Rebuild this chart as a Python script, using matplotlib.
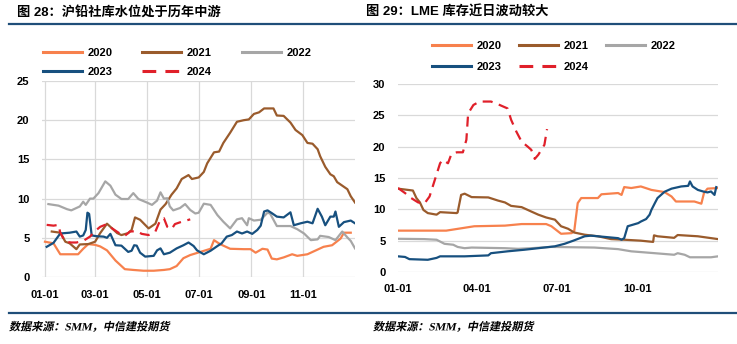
import pandas as pd
import matplotlib
matplotlib.use('Agg')
import matplotlib.pyplot as plt
from matplotlib import patheffects
from matplotlib.lines import Line2D
from matplotlib.transforms import Affine2D

# 沪铅社会库存（万吨），横轴为年内天数
shfe_2020_day = [0, 10, 18, 39, 45, 51, 59, 65, 73, 83, 94, 104, 116, 128, 140, 147, 155, 163, 171, 183,
                 195, 199, 206, 218, 234, 242, 248, 256, 262, 267, 273, 281, 291, 297, 309, 319, 328, 338,
                 348, 352, 360]
shfe_2020 = [4.5, 4.3, 2.9, 2.9, 3.6, 4.2, 4.1, 3.9, 3.4, 2.1, 1.0, 0.9, 0.8, 0.8, 0.9, 1.0, 1.4, 2.4,
             2.8, 3.2, 3.6, 4.7, 4.2, 3.6, 3.55, 3.55, 3.1, 3.6, 3.5, 2.35, 2.25, 2.5, 2.9, 2.7, 2.9, 3.4,
             3.85, 4.05, 4.9, 5.65, 5.65]

shfe_2021_day = [8, 18, 24, 29, 37, 41, 51, 59, 65, 73, 79, 85, 90, 98, 102, 106, 112, 122, 130, 136,
                 142, 149, 155, 161, 169, 173, 181, 187, 191, 199, 205, 210, 218, 226, 234, 240, 246,
                 252, 258, 269, 273, 281, 289, 295, 303, 309, 315, 321, 324, 330, 336, 340, 344, 350,
                 356, 360, 365]
shfe_2021 = [5.8, 5.65, 4.5, 4.3, 3.55, 4.15, 4.2, 4.5, 5.6, 6.8, 6.2, 5.6, 5.35, 5.6, 6.0, 7.6, 7.3,
             6.2, 6.8, 8.6, 9.3, 10.5, 11.3, 12.5, 13.0, 12.5, 12.7, 13.4, 14.5, 15.9, 16.0, 17.1, 18.4,
             19.8, 20.0, 20.1, 20.8, 21.0, 21.5, 21.5, 20.6, 20.55, 19.7, 18.75, 18.1, 17.1, 17.0, 16.3,
             15.4, 14.05, 13.1, 12.85, 12.1, 11.65, 11.2, 10.3, 9.5]

shfe_2022_day = [4, 16, 26, 31, 41, 45, 48, 53, 57, 63, 71, 77, 83, 90, 98, 104, 110, 120, 126, 132,
                 136, 140, 144, 147, 151, 159, 165, 171, 177, 181, 187, 195, 203, 210, 218, 226, 232,
                 238, 240, 246, 254, 262, 265, 273, 289, 297, 305, 313, 321, 324, 334, 342, 350, 356,
                 360, 365]
shfe_2022 = [9.3, 9.1, 8.65, 8.5, 9.0, 9.6, 9.2, 10.0, 10.0, 10.7, 12.2, 11.65, 10.5, 9.95, 9.95, 10.7,
             9.95, 9.5, 9.2, 9.75, 10.8, 10.0, 10.05, 9.0, 8.5, 8.8, 9.3, 8.55, 8.1, 8.2, 9.35, 9.2, 7.9,
             7.05, 6.2, 7.35, 7.5, 6.6, 7.5, 7.2, 7.3, 8.2, 8.1, 6.5, 6.5, 6.1, 5.55, 4.7, 4.8, 5.25, 5.1,
             4.7, 5.8, 5.05, 4.6, 3.65]

shfe_2023_day = [2, 10, 18, 29, 37, 41, 45, 48, 50, 52, 55, 61, 69, 73, 77, 83, 90, 98, 102, 105, 108,
                 112, 118, 128, 132, 136, 140, 147, 155, 163, 169, 175, 179, 187, 195, 203, 208, 214,
                 220, 226, 232, 238, 244, 250, 254, 258, 262, 267, 273, 281, 289, 293, 301, 309, 315,
                 321, 326, 330, 336, 340, 342, 346, 352, 360, 365]
shfe_2023 = [3.85, 4.35, 5.55, 5.65, 5.8, 5.15, 5.3, 6.0, 8.2, 8.05, 5.3, 5.2, 5.15, 5.0, 5.5, 4.05, 4.0,
             3.2, 3.35, 4.05, 4.0, 3.1, 2.6, 2.7, 3.4, 3.65, 2.9, 3.1, 3.65, 4.05, 4.4, 3.95, 3.4, 2.9,
             3.35, 3.95, 4.3, 5.15, 5.35, 5.8, 5.55, 5.8, 5.5, 6.0, 6.55, 8.35, 8.5, 8.15, 7.7, 7.6, 8.25,
             6.6, 6.85, 7.05, 6.85, 8.7, 7.7, 6.6, 7.7, 7.7, 8.35, 6.4, 7.0, 7.2, 6.85]

shfe_2024_day = [2, 10, 16, 18, 24, 31, 37, 45, 53, 59, 65, 73, 79, 88, 94, 100, 108, 114, 122, 130,
                 136, 140, 144, 149, 153, 161, 171]
shfe_2024 = [6.65, 6.55, 6.65, 5.65, 4.5, 4.4, 4.4, 4.6, 5.15, 5.85, 6.4, 6.75, 6.2, 5.55, 5.25, 5.8,
             5.85, 5.5, 5.35, 5.8, 7.35, 7.5, 6.4, 6.1, 6.75, 7.05, 7.35]

# LME 铅库存（万吨）
lme_2020_day = [0, 55, 87, 122, 141, 169, 175, 186, 198, 201, 205, 209, 228, 232, 251, 255, 258, 266,
                277, 289, 304, 312, 317, 338, 346, 349, 353, 365]
lme_2020 = [6.6, 6.6, 7.3, 7.4, 7.65, 7.65, 7.3, 6.1, 6.2, 6.5, 11.0, 11.8, 11.8, 12.4, 12.6, 12.3,
            13.55, 13.4, 13.65, 13.1, 12.75, 12.05, 11.25, 11.25, 10.9, 12.6, 13.3, 13.4]

lme_2021_day = [0, 17, 21, 25, 29, 34, 44, 48, 67, 68, 72, 76, 84, 103, 114, 122, 129, 141, 152, 160,
                169, 179, 186, 194, 201, 213, 228, 243, 258, 277, 291, 292, 296, 315, 319, 342, 365]
lme_2021 = [13.3, 13.0, 11.8, 11.1, 9.9, 9.4, 9.15, 9.55, 9.4, 9.5, 12.3, 12.5, 11.95, 11.9, 11.4, 11.1,
            10.55, 10.35, 9.65, 9.15, 8.7, 8.35, 7.3, 6.9, 6.3, 5.95, 5.7, 5.25, 5.15, 5.0, 4.8, 5.85,
            5.7, 5.45, 5.9, 5.7, 5.25]

lme_2022_day = [0, 30, 44, 53, 63, 68, 76, 84, 122, 137, 152, 175, 224, 251, 266, 293, 315, 319, 327,
                333, 357, 365]
lme_2022 = [5.3, 5.25, 5.15, 4.5, 4.35, 4.0, 3.8, 3.9, 3.8, 3.7, 3.8, 4.0, 3.9, 3.65, 3.3, 3.0, 2.75,
            3.0, 2.75, 2.35, 2.35, 2.5]

lme_2023_day = [0, 8, 13, 34, 44, 48, 76, 103, 106, 125, 144, 160, 179, 190, 200, 213, 220, 228, 251,
                255, 258, 262, 268, 274, 277, 283, 287, 289, 293, 296, 304, 312, 323, 331, 333, 336,
                342, 348, 353, 357, 361, 363]
lme_2023 = [2.5, 2.4, 2.05, 1.95, 2.25, 2.5, 2.5, 2.65, 3.0, 3.3, 3.55, 3.8, 4.1, 4.5, 5.0, 5.7, 5.8,
            5.7, 5.4, 5.15, 5.4, 7.3, 7.55, 7.8, 8.05, 8.45, 9.15, 9.9, 11.0, 11.8, 12.8, 13.3, 13.65,
            13.75, 14.45, 13.65, 13.1, 12.85, 12.7, 12.85, 12.3, 13.55]

lme_2024_day = [0, 8, 15, 23, 30, 36, 42, 48, 51, 57, 61, 67, 74, 78, 80, 86, 93, 106, 112, 116, 125,
                129, 135, 141, 148, 152, 156, 160, 167, 170]
lme_2024 = [13.4, 12.6, 11.8, 11.1, 10.9, 12.05, 14.7, 17.35, 17.9, 17.35, 18.85, 19.1, 19.1, 21.1,
            25.3, 26.65, 27.2, 27.2, 26.9, 26.65, 26.1, 24.3, 22.4, 20.8, 20.0, 19.5, 18.05, 18.7, 20.3,
            22.8]

years = ['2020', '2021', '2022', '2023', '2024']
colors = ['#F7814D', '#9A5B2C', '#A6A6A6', '#17507F', '#E0202A']

shfe_ticks = ['01-01', '03-01', '05-01', '07-01', '09-01', '11-01']
lme_ticks = ['01-01', '04-01', '07-01', '10-01']

titles = ['图 28：沪铅社库水位处于历年中游', '图 29：LME 库存近日波动较大']
source = '数据来源：SMM，中信建投期货'

NUM_FONT = ['Liberation Sans', 'Noto Sans CJK SC']
CJK_FONT = ['Liberation Sans', 'Noto Sans CJK SC']
NAVY = '#1F4E79'
W, H = 737, 344


class Slant(patheffects.AbstractPathEffect):
    """Fake italic: shear each text path about its own baseline."""

    def __init__(self, deg=12):
        super().__init__()
        self.deg = deg

    def draw_path(self, renderer, gc, tpath, affine, rgbFace=None):
        x0, y0 = affine.transform((0, 0))
        shear = Affine2D().translate(-x0, -y0).skew_deg(self.deg, 0).translate(x0, y0)
        renderer.draw_path(gc, tpath, affine + shear, rgbFace)


def day_of(md):
    return pd.Timestamp('2021-' + md).dayofyear - 1


def px_axes(fig, x0, x1, ytop, ybot):
    return fig.add_axes([x0 / W, 1 - ybot / H, (x1 - x0) / W, (ybot - ytop) / H])


def style_axes(ax, ticks, ymax, vgrid):
    for s in ax.spines.values():
        s.set_visible(False)
    ax.set_ylim(0, ymax)
    ax.set_yticks(range(0, ymax + 1, 5))
    ax.set_xticks([day_of(t) for t in ticks])
    ax.set_xticklabels(ticks)
    ax.grid(axis='y', color='#D9D9D9', lw=0.9)
    if vgrid:
        ax.grid(axis='x', color='#D9D9D9', lw=0.9)
    ax.set_axisbelow(True)
    ax.tick_params(length=0, labelsize=8, pad=9)
    for lab in ax.get_xticklabels() + ax.get_yticklabels():
        lab.set_fontfamily(NUM_FONT)
        lab.set_fontweight('bold')


def add_legend(ax, x, y, colspace, rowspace):
    handles = {}
    for yr, c in zip(years, colors):
        ls = (0, (4.5, 3)) if yr == '2024' else '-'
        handles[yr] = Line2D([], [], color=c, lw=2.2, ls=ls, label=yr)
    # legend fills column by column; this order reads row by row
    order = ['2020', '2023', '2021', '2024', '2022']
    ax.legend(handles=[handles[k] for k in order], ncol=3, frameon=False, loc='upper left',
              bbox_to_anchor=(x / W, 1 - y / H), bbox_transform=ax.figure.transFigure,
              borderpad=0, borderaxespad=0, handlelength=3.5, handletextpad=0.5,
              columnspacing=colspace, labelspacing=rowspace,
              prop={'family': NUM_FONT, 'weight': 'bold', 'size': 8})


fig = plt.figure(figsize=(W / 100, H / 100), dpi=100)

# 左图：沪铅社库
ax1 = px_axes(fig, 42, 355, 81, 277)
shfe = [(shfe_2020_day, shfe_2020), (shfe_2021_day, shfe_2021), (shfe_2022_day, shfe_2022),
        (shfe_2023_day, shfe_2023), (shfe_2024_day, shfe_2024)]
for (d, v), yr, c in zip(shfe, years, colors):
    ls = (0, (4.5, 3)) if yr == '2024' else '-'
    ax1.plot(d, v, color=c, lw=1.6, ls=ls)
ax1.set_xlim(-3.5, 365)
style_axes(ax1, shfe_ticks, 25, True)
add_legend(ax1, 43, 48, 2.7, 0.8)

# 右图：LME 库存
ax2 = px_axes(fig, 398, 718, 84, 272)
lme = [(lme_2020_day, lme_2020), (lme_2021_day, lme_2021), (lme_2022_day, lme_2022),
       (lme_2023_day, lme_2023), (lme_2024_day, lme_2024)]
for (d, v), yr, c in zip(lme, years, colors):
    ls = (0, (4.5, 3)) if yr == '2024' else '-'
    ax2.plot(d, v, color=c, lw=1.6, ls=ls)
ax2.set_xlim(0, 365)
style_axes(ax2, lme_ticks, 30, False)
add_legend(ax2, 432, 41, 1.6, 1.0)

# 标题、分隔线与资料来源
fig.text(17 / W, 1 - 12 / H, titles[0], fontsize=9.5, fontweight='bold',
         family=CJK_FONT, va='center', ha='left')
fig.text(366 / W, 1 - 12 / H, titles[1], fontsize=9.5, fontweight='bold',
         family=CJK_FONT, va='center', ha='left')
for y in (24, 313):
    fig.add_artist(Line2D([9 / W, 1], [1 - y / H] * 2, color=NAVY, lw=1.6))
for x in (9, 373):
    fig.text(x / W, 1 - 327 / H, source, fontsize=8.0, fontweight='bold',
             family=['Liberation Serif', 'Noto Sans CJK SC'], va='center', ha='left',
             path_effects=[Slant(12)])

fig.savefig('out.png', dpi=100)
